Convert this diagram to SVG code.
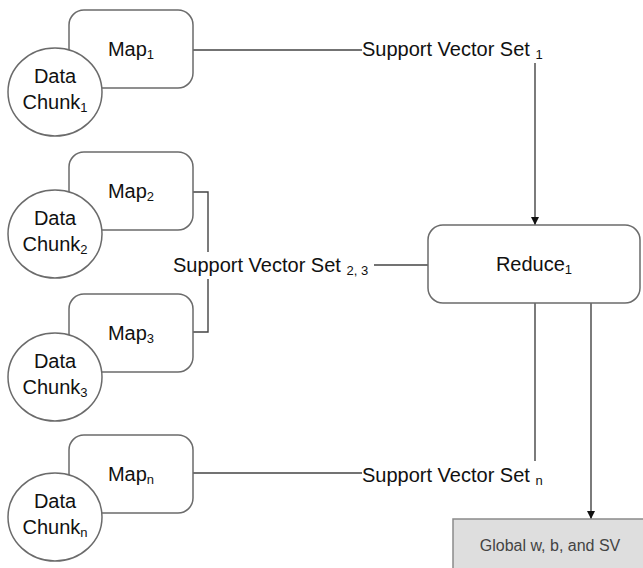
<svg xmlns="http://www.w3.org/2000/svg" width="643" height="568" viewBox="0 0 643 568">
<style>
  .box{fill:#fff;stroke:#6b6b6b;stroke-width:1.5}
  .circ{fill:#fff;stroke:#6b6b6b;stroke-width:1.5}
  .t{font-family:"Liberation Sans",Arial,sans-serif;font-size:20px;fill:#111;text-anchor:middle}
  .lbl{font-family:"Liberation Sans",Arial,sans-serif;font-size:20px;fill:#111}
  .sub{font-size:13px}
  .ln{fill:none;stroke:#444;stroke-width:1.4}
  .g{font-family:"Liberation Sans",Arial,sans-serif;font-size:16px;fill:#444;text-anchor:middle}
</style>
<defs>
  <marker id="arr" viewBox="0 0 10 10" refX="10" refY="5" markerWidth="8" markerHeight="8" markerUnits="userSpaceOnUse" orient="auto">
    <path d="M0,0 L10,5 L0,10 z" fill="#111"/>
  </marker>
</defs>
<rect width="643" height="568" fill="#fff"/>

<g id="connectors">
  <path class="ln" d="M193 50 H362"/>
  <path class="ln" d="M535 63 V225" marker-end="url(#arr)"/>
  <path class="ln" d="M193 192 H208 V252 M208 279 V332 H193"/>
  <path class="ln" d="M374 265 H428"/>
  <path class="ln" d="M193 473 H362"/>
  <path class="ln" d="M535 303 V461"/>
  <path class="ln" d="M591 303 V519" marker-end="url(#arr)"/>
</g>

<g id="map1">
  <rect class="box" x="69" y="10" width="124" height="78" rx="15"/>
  <text class="t" x="131" y="56">Map<tspan class="sub" dy="3">1</tspan></text>
</g>
<g id="chunk1">
  <ellipse class="circ" cx="55" cy="92" rx="47" ry="44"/>
  <text class="t" x="55" y="83">Data</text>
  <text class="t" x="55" y="109">Chunk<tspan class="sub" dy="3">1</tspan></text>
</g>

<g id="map2">
  <rect class="box" x="69" y="152" width="124" height="78" rx="15"/>
  <text class="t" x="131" y="198">Map<tspan class="sub" dy="3">2</tspan></text>
</g>
<g id="chunk2">
  <ellipse class="circ" cx="55" cy="234" rx="47" ry="44"/>
  <text class="t" x="55" y="225">Data</text>
  <text class="t" x="55" y="251">Chunk<tspan class="sub" dy="3">2</tspan></text>
</g>

<g id="map3">
  <rect class="box" x="69" y="294" width="124" height="78" rx="15"/>
  <text class="t" x="131" y="340">Map<tspan class="sub" dy="3">3</tspan></text>
</g>
<g id="chunk3">
  <ellipse class="circ" cx="55" cy="377" rx="47" ry="44"/>
  <text class="t" x="55" y="368">Data</text>
  <text class="t" x="55" y="394">Chunk<tspan class="sub" dy="3">3</tspan></text>
</g>

<g id="mapn">
  <rect class="box" x="69" y="435" width="124" height="78" rx="15"/>
  <text class="t" x="131" y="481">Map<tspan class="sub" dy="3">n</tspan></text>
</g>
<g id="chunkn">
  <ellipse class="circ" cx="55" cy="517" rx="47" ry="44"/>
  <text class="t" x="55" y="508">Data</text>
  <text class="t" x="55" y="534">Chunk<tspan class="sub" dy="3">n</tspan></text>
</g>

<g id="svs1">
  <text class="lbl" x="362" y="56">Support Vector Set <tspan class="sub" dy="3">1</tspan></text>
</g>
<g id="svs23">
  <text class="lbl" x="173" y="272">Support Vector Set <tspan class="sub" dy="3">2, 3</tspan></text>
</g>
<g id="svsn">
  <text class="lbl" x="362" y="482">Support Vector Set <tspan class="sub" dy="3">n</tspan></text>
</g>

<g id="reduce1">
  <rect class="box" x="428" y="225" width="212" height="78" rx="15"/>
  <text class="t" x="534" y="271">Reduce<tspan class="sub" dy="3">1</tspan></text>
</g>

<g id="global">
  <rect x="453" y="519" width="200" height="60" fill="#dedede" stroke="#8a8a8a" stroke-width="1.5"/>
  <text class="g" x="550" y="551">Global w, b, and SV</text>
</g>
</svg>
